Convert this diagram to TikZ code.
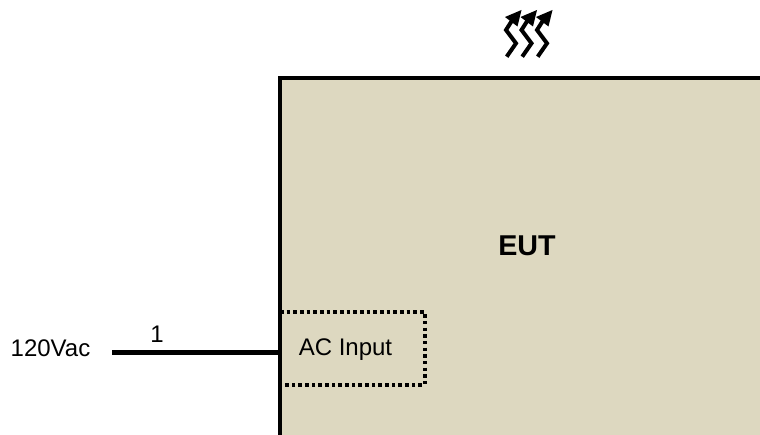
\documentclass[tikz,border=0pt]{standalone}
\usepackage{fontspec}
\setmainfont{Liberation Sans}
\definecolor{eutfill}{HTML}{DDD8C0}
\tikzset{
  lbl/.style={inner sep=0pt,font=\fontsize{18pt}{20pt}\selectfont},
  heatwave/.style={line width=3pt,line join=miter,line cap=butt},
}
\begin{document}
\begin{tikzpicture}[x=0.75pt,y=-0.75pt]
\useasboundingbox (0,0) rectangle (760,435);
\fill[eutfill] (280,78) rectangle (760,435);
\coordinate (inport) at (280,352);
\coordinate (src) at (112,352);
\draw[line width=3pt,line cap=rect] (280,435) -- (280,78) -- (760,78);
\draw[line width=3pt,dash pattern=on 2.7pt off 2.3pt] (280,312) -- (424.5,312) -- (424.5,385) -- (280,385);
\node[lbl,font=\fontsize{21.5pt}{24pt}\selectfont\bfseries] (eut) at (527,245.5) {EUT};
\node[lbl] (acin) at (345.5,350) {AC Input};
\node[lbl] (vac) at (50.5,348) {120Vac};
\node[lbl] (one) at (157,334) {1};
\draw[line width=3.75pt] (src) -- (inport);
\foreach \d in {0,15.5,31}{
  \begin{scope}[xshift=\d*0.75pt]
  \draw[heatwave] (506.7,56.7) -- (516,43.3) -- (506,30) -- (513,19);
  \fill (521.5,10) -- (505,17) -- (517.5,26.5) -- cycle;
  \end{scope}
}
\end{tikzpicture}
\end{document}
